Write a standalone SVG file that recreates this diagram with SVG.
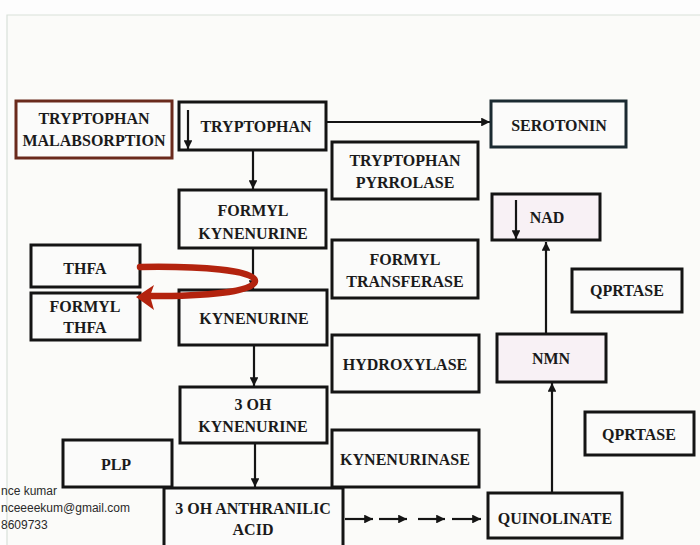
<svg xmlns="http://www.w3.org/2000/svg" width="700" height="545" viewBox="0 0 700 545">
  <style>
    .box { fill: #fbfbfa; stroke: #141414; stroke-width: 3; }
    .pink { fill: #f8f1f5; }
    .brown { stroke: #6a2a1c; }
    .teal { stroke: #1b2a31; }
    .lbl { font-family: "Liberation Serif", "Times New Roman", serif; font-weight: bold; font-size: 16px; fill: #1a1a1a; text-anchor: middle; }
    .wire { stroke: #141414; stroke-width: 2.2; fill: none; }
    .wm { font-family: "Liberation Sans", Arial, sans-serif; font-size: 12px; fill: #2a2a2a; }
  </style>
  <defs>
    <marker id="ah" viewBox="0 0 10 10" refX="10" refY="5" markerWidth="4" markerHeight="4" orient="auto" markerUnits="strokeWidth">
      <path d="M0,0 L10,5 L0,10 z" fill="#141414"/>
    </marker>
  </defs>

  <!-- page background with faint frame -->
  <rect x="0" y="0" width="700" height="545" fill="#fdfdfd"/>
  <rect x="7" y="15" width="693" height="530" fill="#fbfbf9"/>
  <path d="M7,545 V15 H700" fill="none" stroke="#d9e2da" stroke-width="1.2"/>

  <!-- connectors -->
  <g id="connectors">
    <line class="wire" x1="326" y1="122" x2="490" y2="122" marker-end="url(#ah)"/>
    <line class="wire" x1="253" y1="151" x2="253" y2="189" marker-end="url(#ah)"/>
    <line class="wire" x1="253" y1="248" x2="253" y2="289" marker-end="url(#ah)"/>
    <line class="wire" x1="254" y1="346" x2="254" y2="386" marker-end="url(#ah)"/>
    <line class="wire" x1="255" y1="444" x2="255" y2="487" marker-end="url(#ah)"/>
    <line class="wire" x1="552" y1="492" x2="552" y2="383" marker-end="url(#ah)"/>
    <line class="wire" x1="546" y1="333" x2="546" y2="242" marker-end="url(#ah)"/>
    <!-- dashed chain of short arrows -->
    <line class="wire" x1="345" y1="519" x2="373" y2="519" marker-end="url(#ah)"/>
    <line class="wire" x1="379" y1="519" x2="407" y2="519" marker-end="url(#ah)"/>
    <line class="wire" x1="418" y1="519" x2="445" y2="519" marker-end="url(#ah)"/>
    <line class="wire" x1="452" y1="519" x2="481" y2="519" marker-end="url(#ah)"/>
  </g>

  <!-- nodes -->
  <g id="malabsorption">
    <rect class="box brown" x="16" y="101" width="156" height="57"/>
    <text class="lbl" x="94" y="124">TRYPTOPHAN</text>
    <text class="lbl" x="94" y="146">MALABSORPTION</text>
  </g>
  <g id="tryptophan">
    <rect class="box" x="179" y="102" width="147" height="48"/>
    <line class="wire" x1="188" y1="110" x2="188" y2="149" marker-end="url(#ah)"/>
    <text class="lbl" x="256" y="132">TRYPTOPHAN</text>
  </g>
  <g id="serotonin">
    <rect class="box teal" x="491" y="101" width="135" height="46"/>
    <text class="lbl" x="559" y="131">SEROTONIN</text>
  </g>
  <g id="pyrrolase">
    <rect class="box" x="332" y="142" width="146" height="57"/>
    <text class="lbl" x="405" y="166">TRYPTOPHAN</text>
    <text class="lbl" x="405" y="188">PYRROLASE</text>
  </g>
  <g id="formyl-kynenurine">
    <rect class="box" x="179" y="190" width="147" height="58"/>
    <text class="lbl" x="253" y="216">FORMYL</text>
    <text class="lbl" x="253" y="239">KYNENURINE</text>
  </g>
  <g id="nad">
    <rect class="box pink" x="492" y="194" width="108" height="46"/>
    <line class="wire" x1="516" y1="200" x2="516" y2="239" marker-end="url(#ah)"/>
    <text class="lbl" x="547" y="223">NAD</text>
  </g>
  <g id="thfa">
    <rect class="box" x="31" y="245" width="109" height="42"/>
    <text class="lbl" x="85" y="274">THFA</text>
  </g>
  <g id="formyl-transferase">
    <rect class="box" x="332" y="240" width="146" height="58"/>
    <text class="lbl" x="405" y="265">FORMYL</text>
    <text class="lbl" x="405" y="287">TRANSFERASE</text>
  </g>
  <g id="qprtase-1">
    <rect class="box" x="572" y="269" width="110" height="43"/>
    <text class="lbl" x="627" y="296">QPRTASE</text>
  </g>
  <g id="formyl-thfa">
    <rect class="box" x="31" y="293" width="109" height="47"/>
    <text class="lbl" x="85" y="312">FORMYL</text>
    <text class="lbl" x="85" y="333">THFA</text>
  </g>
  <g id="kynenurine">
    <rect class="box" x="179" y="290" width="148" height="55"/>
    <text class="lbl" x="254" y="324">KYNENURINE</text>
  </g>
  <g id="hydroxylase">
    <rect class="box" x="332" y="335" width="147" height="57"/>
    <text class="lbl" x="405" y="370">HYDROXYLASE</text>
  </g>
  <g id="nmn">
    <rect class="box pink" x="497" y="334" width="109" height="48"/>
    <text class="lbl" x="551" y="364">NMN</text>
  </g>
  <g id="oh-kynenurine">
    <rect class="box" x="180" y="387" width="147" height="56"/>
    <text class="lbl" x="253" y="410">3 OH</text>
    <text class="lbl" x="253" y="432">KYNENURINE</text>
  </g>
  <g id="qprtase-2">
    <rect class="box" x="585" y="412" width="109" height="43"/>
    <text class="lbl" x="639" y="440">QPRTASE</text>
  </g>
  <g id="plp">
    <rect class="box" x="63" y="440" width="109" height="47"/>
    <text class="lbl" x="116" y="470">PLP</text>
  </g>
  <g id="kynenurinase">
    <rect class="box" x="332" y="430" width="147" height="57"/>
    <text class="lbl" x="405" y="465">KYNENURINASE</text>
  </g>
  <g id="oh-anthranilic">
    <rect class="box" x="164" y="488" width="179" height="62"/>
    <text class="lbl" x="253" y="514">3 OH ANTHRANILIC</text>
    <text class="lbl" x="253" y="535">ACID</text>
  </g>
  <g id="quinolinate">
    <rect class="box" x="488" y="493" width="134" height="45"/>
    <text class="lbl" x="555" y="524">QUINOLINATE</text>
  </g>

  <!-- formyl transfer loop: THFA to FORMYL THFA -->
  <g id="formyl-loop">
    <path d="M140,267 C200,266 255,270 255,281 C255,292 205,296 150,296" fill="none" stroke="#b3230e" stroke-width="6.5" stroke-linecap="round"/>
    <path d="M136,297 L154,285 L150,296 L154,310 z" fill="#b3230e"/>
  </g>

  <!-- author credit -->
  <g id="credit">
    <text class="wm" x="1" y="495">nce kumar</text>
    <text class="wm" x="1" y="512">nceeeekum@gmail.com</text>
    <text class="wm" x="1" y="529">8609733</text>
  </g>
</svg>
